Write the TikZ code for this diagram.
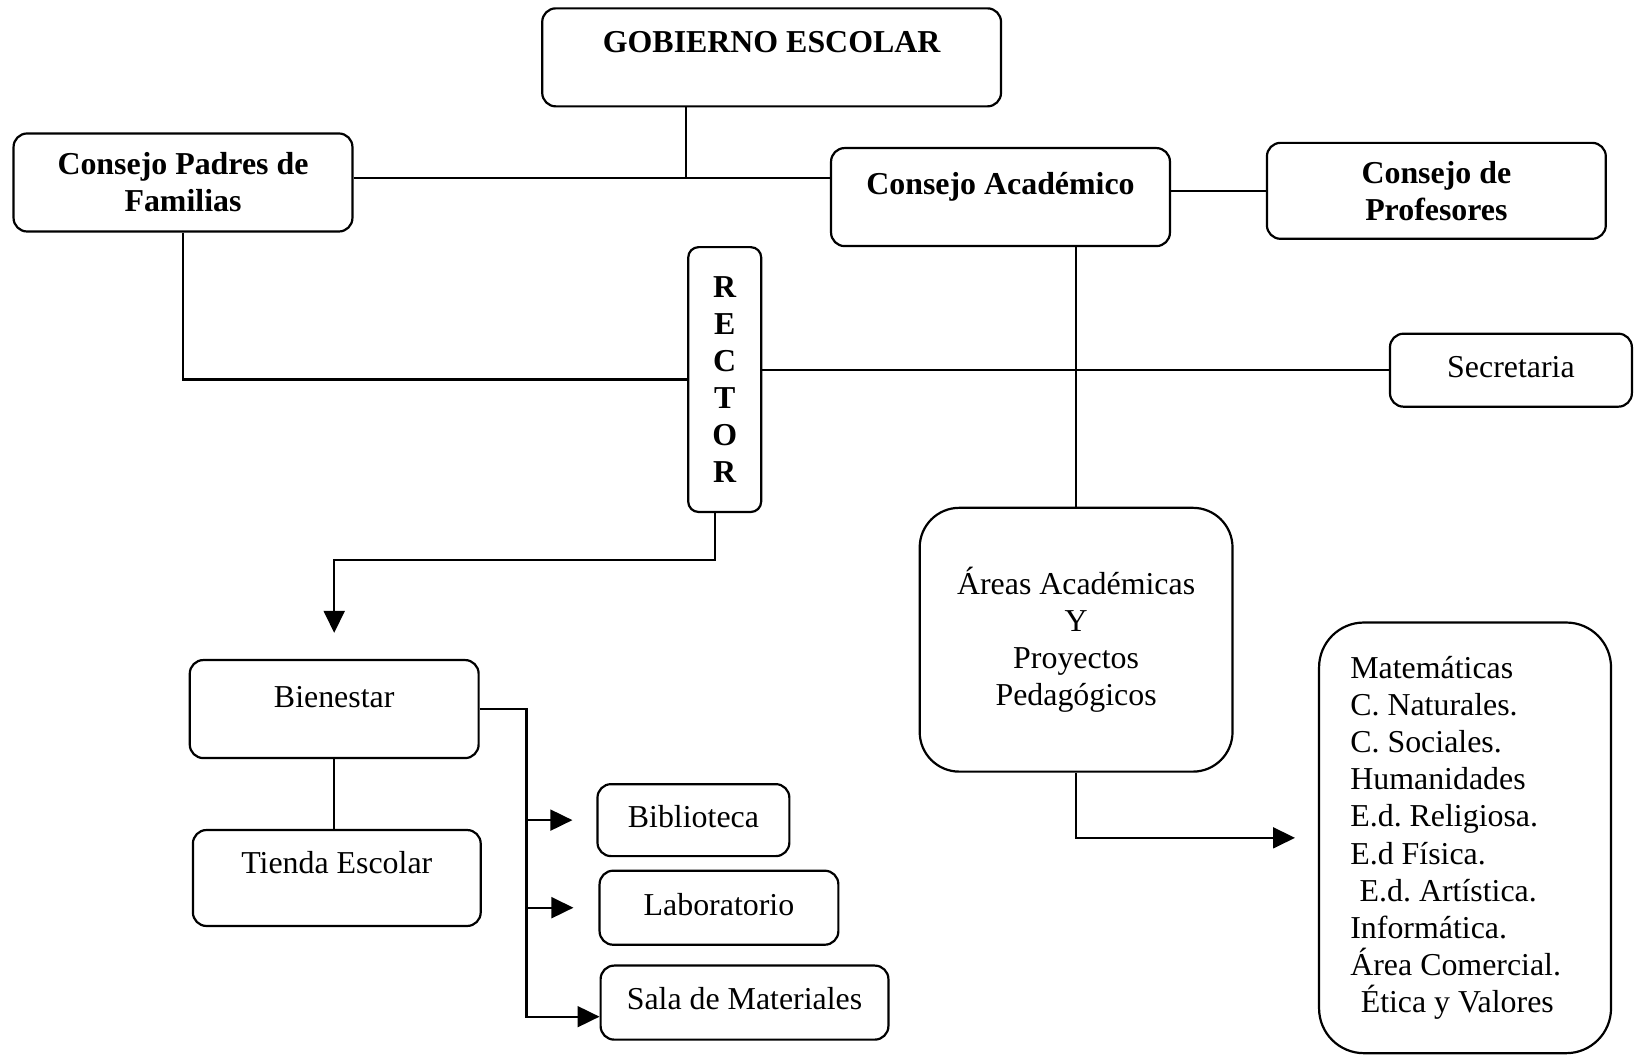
\documentclass[tikz,border=0pt]{standalone}
\usepackage{fontspec}
\setmainfont{Liberation Serif}
\usetikzlibrary{arrows.meta,calc}
\newcommand{\boxradius}{0.13cm}
\newcommand{\chartfont}{\fontsize{8.7}{10.1}\selectfont\frenchspacing}
\tikzset{
    box style/.style={draw,rounded corners=\boxradius,align=center,font=\chartfont},
    box style bf/.style={box style,font=\chartfont\bfseries},
    box style one/.style={text height=6pt,text depth=#1},
    box style one/.default=2pt,
}
\begin{document}
\begin{tikzpicture}[>={Triangle[length=6pt,width=5.7pt]},line width=0.6pt]
   \fill[white] (0,0) rectangle (15.68,-10.11);
   % consejos
   \node[box style bf,box style one=8.8pt,minimum width=4.40cm,minimum height=0.94cm] (gob) at (7.40,-0.55) {GOBIERNO ESCOLAR};
   \node[box style bf,minimum width=3.25cm,minimum height=0.94cm] (padres) at (1.755,-1.75) {Consejo Padres de\\Familias};
   \node[box style bf,box style one=7.6pt,minimum width=3.25cm,minimum height=0.94cm] (acad) at (9.595,-1.89) {Consejo Académico};
   \node[box style bf,minimum width=3.25cm,minimum height=0.92cm] (prof) at (13.775,-1.83) {Consejo de\\Profesores};
   \node[box style bf,rounded corners=0.1cm,minimum width=0.70cm,minimum height=2.54cm] (rector) at (6.95,-3.64) {R\\E\\C\\T\\O\\R};
   \node[box style,box style one,minimum width=2.32cm,minimum height=0.70cm] (sec) at (14.49,-3.55) {Secretaria};
   % bienestar
   \node[box style,box style one=7.1pt,minimum width=2.77cm,minimum height=0.94cm] (bien) at (3.205,-6.80) {Bienestar};
   \node[box style,box style one=8.2pt,minimum width=2.76cm,minimum height=0.92cm] (tienda) at (3.23,-8.42) {Tienda Escolar};
   \node[box style,box style one,minimum width=1.84cm,minimum height=0.69cm] (bibl) at (6.65,-7.865) {Biblioteca};
   \node[box style,box style one,minimum width=2.29cm,minimum height=0.71cm] (lab) at (6.895,-8.705) {Laboratorio};
   \node[box style,box style one,minimum width=2.76cm,minimum height=0.71cm] (sala) at (7.14,-9.615) {Sala de Materiales};
   % areas
   \node[box style,rounded corners=0.38cm,minimum width=3.00cm,minimum height=2.53cm] (areas) at (10.32,-6.135) {Áreas Académicas\\Y\\Proyectos\\Pedagógicos};
   \node[box style,rounded corners=0.43cm,minimum width=2.80cm,minimum height=4.13cm,text width=2.2cm,align=left] (list) at (14.05,-8.035)
   {\spaceskip=0pt\xspaceskip=0pt Matemáticas\\C. Naturales.\\C. Sociales.\\Humanidades\\E.d. Religiosa.\\E.d Física.\\\hspace*{0.09cm}E.d. Artística.\\Informática.\\Área Comercial.\\\hspace*{0.1cm}Ética y Valores};

   \coordinate (gobj) at (6.58,-1.71);
   \draw (gob.south -| gobj) -- (gobj);
   \draw (padres.east |- gobj) -- (acad.west |- gobj);
   \draw (acad.east |- prof.west) -- (prof.west);
   \draw (padres.south) |- (rector.west);
   \draw (rector.east |- sec.west) -- (sec.west);
   \draw (acad.south -| areas.north) -- (areas.north);
   \draw[->] ([xshift=-0.09cm]rector.south) |- ([yshift=0.95cm]bien.north) -- ([yshift=0.25cm]bien.north);
   \draw (bien.south) -- (bien.south |- tienda.north);
   \coordinate (brend) at (5.05,-9.75);
   \draw[->] (bien.east) -| (brend) -- (sala.west |- brend);
   \draw[->] (bibl.west -| brend) -- ([xshift=-0.23cm]bibl.west);
   \draw[->] (lab.west -| brend) -- ([xshift=-0.24cm]lab.west);
   \draw[->] (areas.south) |- ([xshift=-0.22cm]list.west);
\end{tikzpicture}
\end{document}
